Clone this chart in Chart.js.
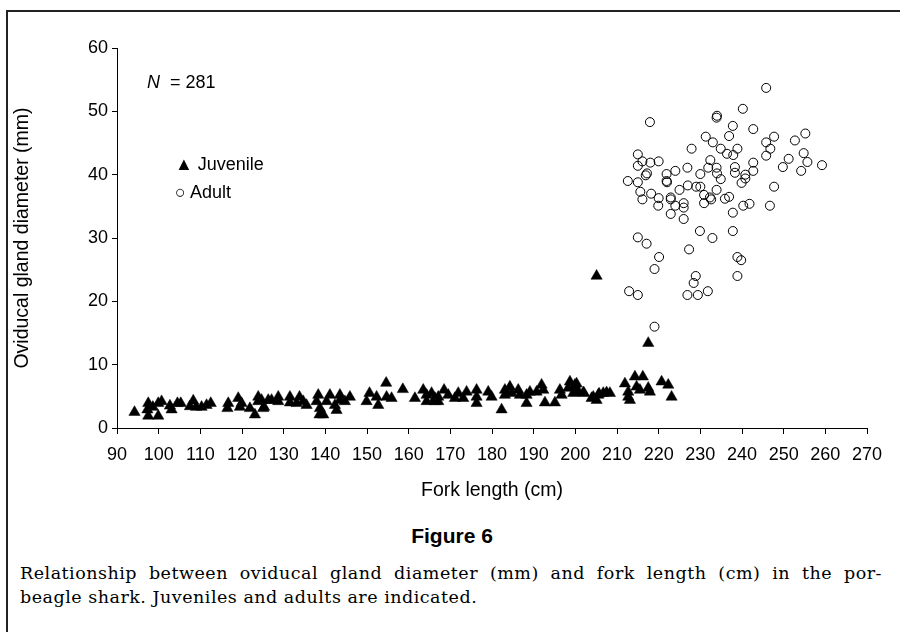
<!DOCTYPE html>
<html lang="en">
<head>
    <meta charset="UTF-8">
    <title>Figure 6 - Oviducal gland diameter vs fork length</title>
    <script src="https://cdn.jsdelivr.net/npm/chart.js"></script>
    <style>
        body { margin: 0; background: #fff; }
        #page { position: relative; width: 904px; height: 632px; overflow: hidden; font-family: "Liberation Sans", Arial, sans-serif; color: #000; }
        #frame { position: absolute; left: 6px; top: 10px; width: 892px; height: 640px; border-top: 2px solid #222; border-left: 2px solid #222; }
        #chartBox { position: absolute; left: 0; top: 0; width: 904px; height: 520px; }
        .note { position: absolute; font-size: 18px; white-space: nowrap; }
        #figTitle { position: absolute; left: 0; width: 904px; top: 524px; text-align: center; font-family: "Liberation Sans Narrow", "Liberation Sans", sans-serif; font-weight: bold; font-size: 21px; }
        .cap { position: absolute; left: 20px; font-family: "DejaVu Serif", serif; font-size: 17.5px; letter-spacing: 0.5px; white-space: nowrap; }
        #cap1 { top: 563px; width: 862px; text-align: justify; text-align-last: justify; }
        #cap2 { top: 587px; }
    </style>
</head>
<body>
<div id="page">
    <div id="frame"></div>
    <div id="chartBox"><canvas id="glandChart"></canvas></div>
    <div class="note" style="left:147px; top:72px;"><i>N</i>&nbsp; = 281</div>
    <div class="note" style="left:175px; top:154px;">&#9650; Juvenile</div>
    <div class="note" style="left:175px; top:182px;">&#9675; Adult</div>
    <div id="figTitle">Figure 6</div>
    <div class="cap" id="cap1">Relationship between oviducal gland diameter (mm) and fork length (cm) in the por-</div>
    <div class="cap" id="cap2">beagle shark. Juveniles and adults are indicated.</div>
</div>

<script>
    // axis ranges
    const xRange = [90, 270];
    const yRange = [0, 60];

    // juveniles: fork length (cm) / gland diameter (mm)
    const juvenileLength = [
        94.2, 97.5, 97.3, 97.5, 99.9, 99.9, 100.7, 98.6, 102.7, 103.1,
        104.5, 105.3, 108.3, 107.5, 109.0, 110.3, 111.5, 112.5, 116.7, 116.5,
        119.1, 119.9, 119.5, 121.9, 123.1, 123.9, 123.9, 125.1, 126.3, 124.7,
        125.3, 127.1, 128.7, 128.7, 131.5, 131.5, 133.8, 133.1, 134.7, 135.5,
        138.3, 137.9, 138.7, 138.6, 139.5, 140.3, 141.1, 142.3, 142.7, 143.5,
        143.5, 144.7, 145.9, 150.6, 149.9, 152.3, 152.7, 154.7, 154.6, 155.9,
        158.6, 161.5, 163.5, 164.3, 164.3, 165.5, 166.3, 167.1, 167.1, 166.3,
        168.5, 169.5, 171.1, 171.9, 173.1, 173.9, 176.3, 176.3, 176.3, 179.1,
        179.9, 182.3, 183.1, 183.1, 184.3, 184.7, 186.3, 186.7, 188.3, 188.3,
        189.1, 190.7, 191.9, 192.3, 192.7, 195.1, 196.3, 196.7, 198.7, 198.3,
        200.3, 199.5, 200.7, 201.9, 203.9, 205.1, 205.5, 206.7, 208.3, 211.9,
        205.1, 217.5, 199.9, 200.3, 202.1, 204.3, 205.7, 207.5, 212.7, 212.7,
        213.1, 214.3, 216.2, 214.7, 215.5, 217.5, 217.9, 220.7, 222.3, 223.1
    ];
    const juvenileGland = [
        2.5, 3.9, 2.9, 1.9, 1.9, 3.9, 4.2, 3.3, 3.5, 2.9,
        3.9, 3.9, 4.3, 3.4, 3.3, 3.3, 3.6, 3.9, 3.9, 3.1,
        4.7, 3.9, 3.3, 3.1, 2.1, 4.9, 4.2, 3.1, 4.4, 4.4,
        3.3, 4.4, 4.9, 4.2, 4.9, 4.0, 4.9, 3.9, 4.2, 3.6,
        5.2, 4.2, 3.1, 2.1, 2.1, 4.2, 5.2, 3.6, 2.8, 5.2,
        4.4, 4.2, 4.9, 5.5, 4.2, 4.9, 3.6, 4.9, 7.1, 4.7,
        6.1, 4.7, 6.0, 5.2, 4.2, 5.5, 4.2, 4.9, 4.2, 4.7,
        6.0, 5.2, 4.7, 5.5, 4.7, 5.7, 6.0, 4.9, 3.9, 5.7,
        4.9, 2.9, 6.0, 5.2, 6.5, 5.5, 6.0, 5.2, 5.2, 3.9,
        5.7, 5.7, 6.8, 6.0, 4.0, 4.0, 6.0, 5.2, 7.3, 6.3,
        7.0, 5.5, 5.7, 5.6, 4.7, 4.4, 5.2, 5.5, 5.5, 7.0,
        24.0, 13.4, 6.8, 6.1, 5.5, 4.9, 5.4, 5.6, 5.7, 4.9,
        4.4, 8.1, 8.1, 6.5, 6.0, 6.3, 5.7, 7.3, 6.8, 4.9
    ];

    // adults: fork length (cm) / gland diameter (mm)
    const adultLength = [
        217.9, 233.9, 234.0, 231.3, 233.0, 227.9, 215.0, 216.1, 218.0, 220.0,
        215.0, 217.2, 216.9, 221.9, 224.0, 226.9, 232.4, 231.9, 230.0, 233.9,
        234.0, 212.6, 215.0, 221.9, 222.0, 227.0, 229.0, 230.0, 225.0, 215.6,
        218.2, 230.9, 233.9, 220.0, 222.9, 232.3, 216.1, 219.9, 222.9, 224.0,
        226.0, 226.0, 222.9, 226.0, 230.9, 232.6, 229.9, 232.9, 215.0, 217.1,
        227.3, 220.1, 219.0, 228.9, 228.4, 212.9, 215.0, 226.9, 229.4, 231.8,
        219.0, 245.8, 240.2, 237.8, 242.7, 236.9, 245.8, 247.7, 246.8, 245.8,
        252.7, 255.2, 234.9, 238.9, 236.4, 237.9, 251.2, 254.8, 255.7, 259.2,
        249.8, 254.2, 242.7, 242.7, 238.3, 238.3, 234.9, 240.8, 240.8, 239.9,
        247.7, 236.9, 235.9, 240.3, 241.8, 246.7, 237.8, 237.8, 238.9, 239.8,
        238.9
    ];
    const adultGland = [
        48.3, 49.0, 49.3, 46.0, 45.1, 44.1, 43.2, 42.1, 41.9, 42.1,
        41.4, 40.2, 39.9, 40.1, 40.6, 41.1, 42.3, 41.1, 40.1, 41.1,
        40.2, 39.0, 38.8, 39.0, 38.8, 38.3, 38.1, 38.1, 37.6, 37.3,
        37.0, 36.8, 37.6, 36.3, 36.4, 36.4, 36.1, 35.1, 36.1, 35.1,
        35.5, 34.8, 33.8, 33.0, 35.5, 36.1, 31.1, 30.0, 30.1, 29.1,
        28.2, 27.0, 25.1, 24.0, 22.9, 21.6, 21.0, 21.0, 21.0, 21.6,
        16.0, 53.7, 50.4, 47.7, 47.2, 46.1, 45.1, 46.0, 44.1, 43.0,
        45.4, 46.5, 44.1, 44.1, 43.3, 43.1, 42.5, 43.4, 42.0, 41.5,
        41.2, 40.6, 41.9, 40.6, 41.2, 40.3, 39.3, 40.0, 39.4, 38.7,
        38.1, 36.5, 36.2, 35.1, 35.4, 35.1, 34.0, 31.1, 27.0, 26.5,
        24.0
    ];

    const toPoints = (xs, ys) => xs.map((x, i) => ({ x: x, y: ys[i] }));

    const tickFont = { family: '"Liberation Sans", Arial, sans-serif', size: 18 };
    const titleFont = { family: '"Liberation Sans", Arial, sans-serif', size: 19.5 };

    const ctx = document.getElementById('glandChart').getContext('2d');
    new Chart(ctx, {
        type: 'scatter',
        data: {
            datasets: [
                {
                    label: 'Juvenile',
                    data: toPoints(juvenileLength, juvenileGland),
                    pointStyle: 'triangle',
                    pointRadius: 6.5,
                    backgroundColor: '#000',
                    borderColor: '#000',
                    borderWidth: 0.5
                },
                {
                    label: 'Adult',
                    data: toPoints(adultLength, adultGland),
                    pointStyle: 'circle',
                    pointRadius: 4.5,
                    backgroundColor: 'rgba(0,0,0,0)',
                    borderColor: '#000',
                    borderWidth: 1
                }
            ]
        },
        options: {
            responsive: true,
            maintainAspectRatio: false,
            animation: false,
            layout: { padding: { left: 0, top: 48, right: 37, bottom: 0 } },
            plugins: {
                legend: { display: false },
                tooltip: { enabled: false }
            },
            scales: {
                x: {
                    type: 'linear',
                    min: xRange[0],
                    max: xRange[1],
                    afterFit: (scale) => { scale.height = 92; },
                    ticks: { stepSize: 10, color: '#000', font: tickFont, padding: 10, maxRotation: 0, autoSkip: false },
                    grid: { drawOnChartArea: false, color: '#000', tickLength: 6 },
                    border: { color: '#000', width: 1 },
                    title: { display: true, text: 'Fork length (cm)', color: '#000', font: titleFont, padding: { top: 0, bottom: 18 } }
                },
                y: {
                    type: 'linear',
                    min: yRange[0],
                    max: yRange[1],
                    afterFit: (scale) => { scale.width = 117; },
                    ticks: { stepSize: 10, color: '#000', font: tickFont, padding: 4 },
                    grid: { drawOnChartArea: false, color: '#000', tickLength: 5 },
                    border: { color: '#000', width: 1 },
                    title: { display: true, text: 'Oviducal gland diameter (mm)', color: '#000', font: titleFont, padding: { top: 11, bottom: 0 } }
                }
            }
        }
    });
</script>
</body>
</html>
